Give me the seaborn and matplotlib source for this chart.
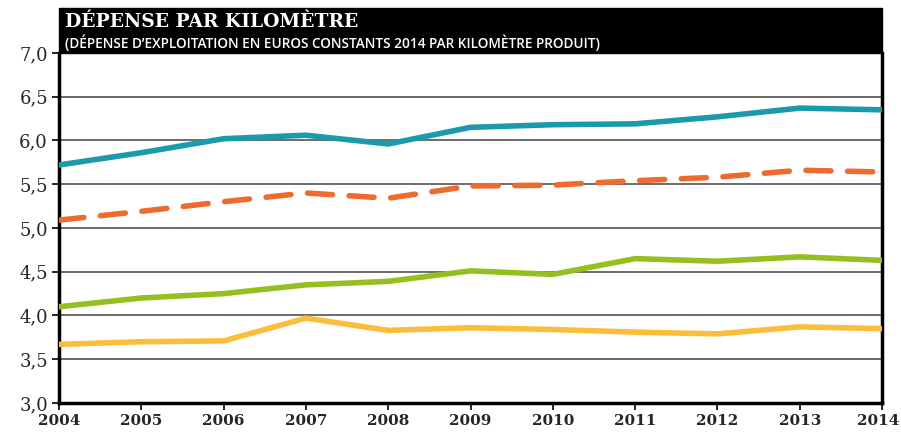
import pandas as pd
import matplotlib.pyplot as plt
import matplotlib.transforms as mtransforms
import seaborn as sns
from matplotlib.patches import Rectangle

# Dépense d'exploitation par kilomètre (euros constants 2014)
years = [2004, 2005, 2006, 2007, 2008, 2009, 2010, 2011, 2012, 2013, 2014]
teal = [5.72, 5.86, 6.02, 6.06, 5.96, 6.15, 6.18, 6.19, 6.27, 6.37, 6.35]
orange = [5.09, 5.19, 5.30, 5.40, 5.34, 5.48, 5.49, 5.54, 5.58, 5.66, 5.64]
green = [4.10, 4.20, 4.25, 4.35, 4.39, 4.51, 4.47, 4.65, 4.62, 4.67, 4.63]
yellow = [3.67, 3.70, 3.71, 3.97, 3.83, 3.86, 3.84, 3.81, 3.79, 3.87, 3.85]
yticks = [3.0, 3.5, 4.0, 4.5, 5.0, 5.5, 6.0, 6.5, 7.0]
ylabels = ["3,0", "3,5", "4,0", "4,5", "5,0", "5,5", "6,0", "6,5", "7,0"]

sns.set_style("white")

fig = plt.figure(figsize=(9.01, 4.34), dpi=100)
ax = fig.add_axes([0.0655, 0.0714, 0.9135, 0.8066])

# horizontal guide lines
for v in yticks[1:-1]:
    ax.axhline(v, color="#444444", lw=1.1, zorder=1)

df = pd.DataFrame({"year": years, "teal": teal, "orange": orange,
                   "green": green, "yellow": yellow})

sns.lineplot(data=df, x="year", y="teal", ax=ax, color="#1a9aaa", lw=4,
             solid_capstyle="round", solid_joinstyle="round", zorder=3)
sns.lineplot(data=df, x="year", y="orange", ax=ax, color="#ee6b30", lw=4,
             dashes=False, zorder=3)
ax.lines[-1].set_linestyle((0, (4.5, 3)))
ax.lines[-1].set_dash_capstyle("round")
sns.lineplot(data=df, x="year", y="green", ax=ax, color="#93c01f", lw=4,
             solid_capstyle="round", solid_joinstyle="round", zorder=3)
sns.lineplot(data=df, x="year", y="yellow", ax=ax, color="#fbbd3a", lw=4,
             solid_capstyle="round", solid_joinstyle="round", zorder=3)

ax.set_xlim(2004, 2014)
ax.set_ylim(3.0, 7.0)
ax.set_xticks(years)
ax.set_xticklabels([str(y) for y in years], fontfamily="DejaVu Serif",
                   fontweight="bold", fontsize=11)
ax.set_yticks(yticks)
ax.set_yticklabels(ylabels, fontfamily="DejaVu Serif", fontsize=13)
ax.set_xlabel("")
ax.set_ylabel("")
ax.tick_params(axis="both", direction="out", length=5, width=1.2,
               color="black", pad=3, bottom=True, left=True)

# nudge last year label so it stays inside the canvas
last = ax.get_xticklabels()[-1]
last.set_transform(last.get_transform() +
                   mtransforms.ScaledTranslation(-4 / 100, 0, fig.dpi_scale_trans))

for side in ["left", "bottom", "right"]:
    ax.spines[side].set_linewidth(2.5)
    ax.spines[side].set_color("black")
ax.spines["top"].set_visible(False)

# black title band
fig.patches.append(Rectangle((0.0655, 0.878), 0.9135, 0.1036,
                             transform=fig.transFigure, color="black",
                             zorder=0))
fig.text(0.072, 0.950, "DÉPENSE PAR KILOMÈTRE", color="white",
         fontfamily="DejaVu Serif", fontweight="bold", fontsize=13.5,
         va="center")
fig.text(0.072, 0.902,
         "(DÉPENSE D\u2019EXPLOITATION EN EUROS CONSTANTS 2014 PAR KILOMÈTRE PRODUIT)",
         color="white", fontfamily="Open Sans", fontweight="semibold",
         fontsize=9.8, va="center")

fig.savefig("out.png", dpi=100)
